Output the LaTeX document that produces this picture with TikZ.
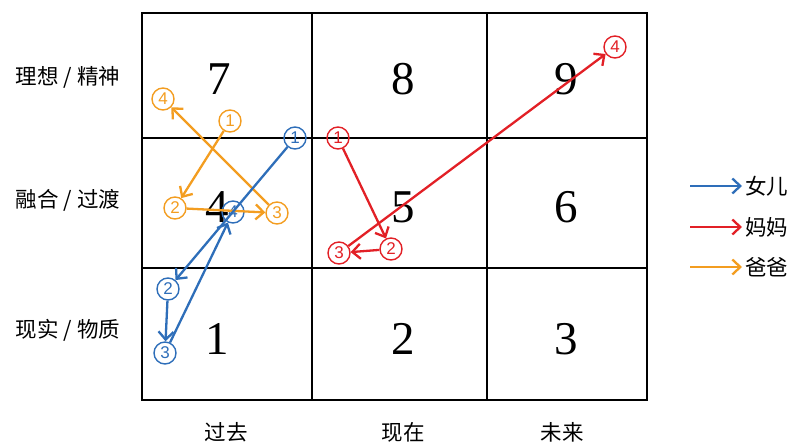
\documentclass[tikz,border=0pt]{standalone}
\usepackage{fontspec}
\setmainfont{Liberation Serif}
\newfontfamily\cjk{Noto Sans CJK SC}
\newfontfamily\numsans{Liberation Sans}
\usetikzlibrary{arrows.meta}
\definecolor{cblue}{RGB}{46,110,185}
\definecolor{cred}{RGB}{226,32,38}
\definecolor{corange}{RGB}{243,157,32}
\tikzset{
  gridline/.style={line width=2.4pt,black},
  bignum/.style={inner sep=0pt,font=\fontsize{47}{47}\selectfont},
  sidelabel/.style={inner sep=0pt,font=\cjk\fontsize{21.5}{21.5}\selectfont},
  circnum/.style={circle,draw,line width=1.4pt,minimum size=22pt,inner sep=0pt,font=\numsans\fontsize{17}{17}\selectfont},
  path/.style={line width=2.3pt,-{Straight Barb[length=8pt,width=15pt,line width=2.3pt]}},
}
\begin{document}
\begin{tikzpicture}[x=1pt,y=-1pt]
\useasboundingbox (0,0) rectangle (792,444);
% grid
\draw[gridline] (142,13) rectangle (647,400);
\draw[gridline] (312,13) -- (312,400);
\draw[gridline] (487,13) -- (487,400);
\draw[gridline] (142,138) -- (647,138);
\draw[gridline] (142,268) -- (647,268);
% big numbers
\node[bignum] (n7) at (219,79) {7};
\node[bignum] (n8) at (403,79) {8};
\node[bignum] (n9) at (566,79) {9};
\node[bignum] (n4) at (217,207) {4};
\node[bignum] (n5) at (403,207) {5};
\node[bignum] (n6) at (566,207) {6};
\node[bignum] (n1) at (217,339) {1};
\node[bignum] (n2) at (403,339) {2};
\node[bignum] (n3) at (566,339) {3};
% side labels
\node[sidelabel] (l1) at (68,77) {理想 / 精神};
\node[sidelabel] (l2) at (68,200) {融合 / 过渡};
\node[sidelabel] (l3) at (68,330) {现实 / 物质};
\node[sidelabel] (b1) at (226,432) {过去};
\node[sidelabel] (b2) at (403,432) {现在};
\node[sidelabel] (b3) at (562,432) {未来};
% orange (dad)
\node[circnum,draw=corange,text=corange] (o1) at (230,121) {1};
\node[circnum,draw=corange,text=corange] (o2) at (175,208) {2};
\node[circnum,draw=corange,text=corange] (o3) at (277,213) {3};
\node[circnum,draw=corange,text=corange] (o4) at (163,99) {4};
% blue (daughter)
\node[circnum,draw=cblue,text=cblue] (b1c) at (295,138) {1};
\node[circnum,draw=cblue,text=cblue] (b2c) at (168,289) {2};
\node[circnum,draw=cblue,text=cblue] (b3c) at (165,353) {3};
\node[circnum,draw=cblue,text=cblue] (b4c) at (233,212) {4};
% red (mom)
\node[circnum,draw=cred,text=cred] (r1) at (338,138) {1};
\node[circnum,draw=cred,text=cred] (r2) at (391,249) {2};
\node[circnum,draw=cred,text=cred] (r3) at (339,253) {3};
\node[circnum,draw=cred,text=cred] (r4) at (615,47) {4};
% arrows
\draw[path,corange] (o1) -- (o2);
\draw[path,corange] (o2) -- (o3);
\draw[path,corange] (o3) -- (o4);
\draw[path,cblue] (b1c) -- (b2c);
\draw[path,cblue] (b2c) -- (b3c);
\draw[path,cblue] (b3c) -- (b4c);
\draw[path,cred] (r1) -- (r2);
\draw[path,cred] (r2) -- (r3);
\draw[path,cred] (r3) -- (r4);
% legend
\coordinate (a1s) at (690,186); \node[sidelabel,anchor=west] (t1) at (745,186) {女儿};
\coordinate (a2s) at (690,227); \node[sidelabel,anchor=west] (t2) at (745,227) {妈妈};
\coordinate (a3s) at (690,267); \node[sidelabel,anchor=west] (t3) at (745,267) {爸爸};
\draw[path,cblue] (a1s) -- ([xshift=-3pt]t1.west);
\draw[path,cred] (a2s) -- ([xshift=-3pt]t2.west);
\draw[path,corange] (a3s) -- ([xshift=-3pt]t3.west);
\end{tikzpicture}
\end{document}
